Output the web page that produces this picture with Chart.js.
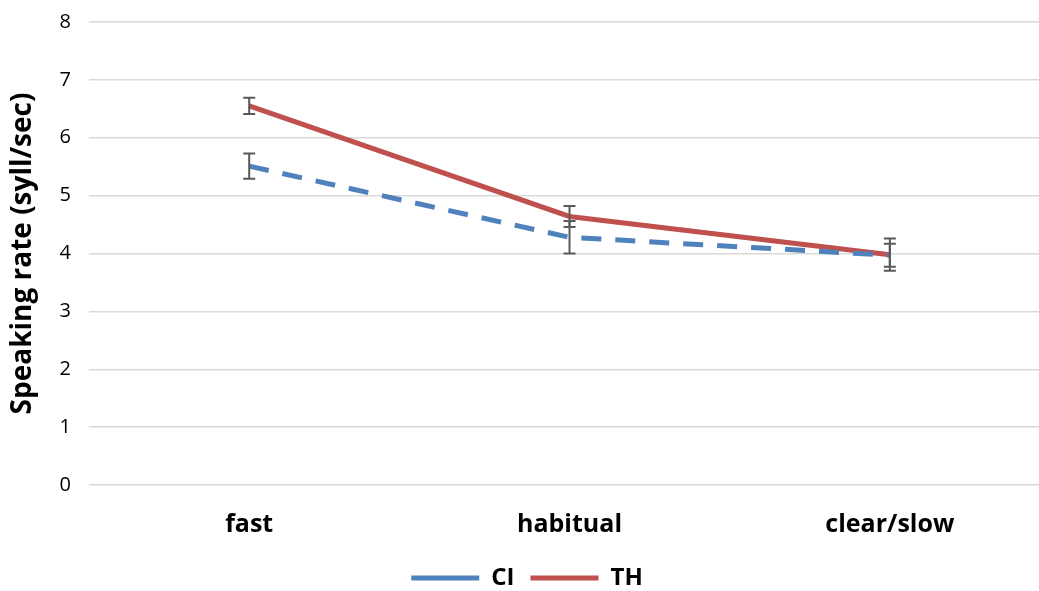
<!DOCTYPE html>
<html>
<head>
<meta charset="utf-8">
<script src="https://cdn.jsdelivr.net/npm/chart.js@4/dist/chart.umd.min.js"></script>
<style>
  html, body { margin: 0; padding: 0; background: #fff; overflow: hidden; }
  #wrap { width: 1050px; height: 600px; }
</style>
</head>
<body>
<div id="wrap"><canvas id="rateChart"></canvas></div>
<script>
// categories and series
const categories = ['fast', 'habitual', 'clear/slow'];
const ciValues = [5.51, 4.28, 3.97];
const thValues = [6.55, 4.64, 3.98];
const ciErrors = [0.22, 0.28, 0.20];
const thErrors = [0.14, 0.18, 0.28];

const fontFamily = '"Open Sans", Lato, sans-serif';

// error bars drawn through the chart's own scales
const errorBars = {
    id: 'errorBars',
    afterDatasetsDraw(chart) {
        const ctx = chart.ctx;
        const x = chart.scales.x;
        const y = chart.scales.y;
        ctx.save();
        ctx.strokeStyle = '#595959';
        ctx.lineWidth = 2;
        chart.data.datasets.forEach(ds => {
            ds.data.forEach((v, i) => {
                const px = x.getPixelForValue(i);
                const top = y.getPixelForValue(v + ds.errors[i]);
                const bot = y.getPixelForValue(v - ds.errors[i]);
                ctx.beginPath();
                ctx.moveTo(px, top); ctx.lineTo(px, bot);
                ctx.moveTo(px - 6, top); ctx.lineTo(px + 6, top);
                ctx.moveTo(px - 6, bot); ctx.lineTo(px + 6, bot);
                ctx.stroke();
            });
        });
        ctx.restore();
    }
};

const ctx = document.getElementById('rateChart').getContext('2d');
new Chart(ctx, {
    type: 'line',
    data: {
        labels: categories,
        datasets: [
            {
                label: 'CI',
                data: ciValues,
                errors: ciErrors,
                borderColor: '#4F81BD',
                backgroundColor: '#4F81BD',
                borderWidth: 5,
                borderDash: [20, 14],
                pointRadius: 0,
                tension: 0
            },
            {
                label: 'TH',
                data: thValues,
                errors: thErrors,
                borderColor: '#C0504D',
                backgroundColor: '#C0504D',
                borderWidth: 5,
                pointRadius: 0,
                tension: 0
            }
        ]
    },
    options: {
        responsive: true,
        maintainAspectRatio: false,
        animation: false,
        layout: { padding: { top: 22, right: 0, bottom: 0, left: 4 } },
        plugins: {
            tooltip: { enabled: false },
            legend: {
                position: 'bottom',
                labels: {
                    usePointStyle: true,
                    pointStyle: 'line',
                    pointStyleWidth: 68,
                    color: '#000',
                    padding: 16,
                    font: { family: fontFamily, size: 24, weight: 'bold', lineHeight: 1 }
                }
            }
        },
        scales: {
            x: {
                offset: true,
                grid: { display: false },
                border: { display: false },
                ticks: {
                    color: '#000',
                    padding: 17,
                    font: { family: fontFamily, size: 25, weight: 'bold' }
                },
                afterFit: (s) => { s.height = 65; }
            },
            y: {
                min: 0,
                max: 8,
                ticks: {
                    stepSize: 1,
                    color: '#000',
                    padding: 18,
                    font: { family: fontFamily, size: 20 }
                },
                grid: { color: '#d9d9d9', lineWidth: 1.5, drawTicks: false },
                border: { display: false },
                title: {
                    display: true,
                    text: 'Speaking rate (syll/sec)',
                    color: '#000',
                    padding: 2,
                    font: { family: fontFamily, size: 28, weight: 'bold' }
                },
                afterFit: (s) => { s.paddingTop = 0; s.paddingBottom = 0; }
            }
        }
    },
    plugins: [errorBars]
});
</script>
</body>
</html>
